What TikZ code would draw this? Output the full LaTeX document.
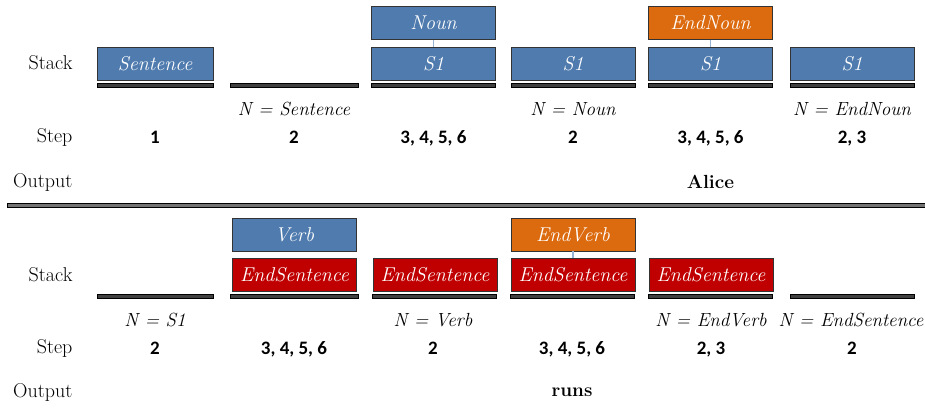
\documentclass[tikz,border=0pt]{standalone}
\usepackage{fontspec}
\newfontfamily\stepfont{Carlito}
\usepackage{tikz}
\usetikzlibrary{positioning}

\definecolor{boxblue}{HTML}{4F7BAE}
\definecolor{boxorange}{HTML}{DC6A0F}
\definecolor{boxred}{HTML}{C00000}
\definecolor{barGray}{HTML}{404040}
\definecolor{linkblue}{HTML}{95B3D7}

\tikzset{
  frame/.style={draw=black!80, line width=0.8pt, minimum height=33pt, inner sep=0pt,
    text=white, font=\fontsize{20}{22}\selectfont\itshape},
  nt/.style={frame, fill=boxblue, minimum width=124pt},
  endnt/.style={frame, fill=boxorange, minimum width=124pt},
  endsent/.style={frame, fill=boxred, minimum width=124pt},
  base/.style={draw=black, fill=barGray, line width=0.6pt, minimum height=4pt, inner sep=0pt, minimum width=124pt},
  rowlabel/.style={anchor=east, font=\fontsize{20}{22}\selectfont},
  nlabel/.style={anchor=base, inner sep=0pt, font=\fontsize{19}{22}\selectfont\itshape},
  stepno/.style={anchor=base, inner sep=0pt, font=\fontsize{19}{22}\selectfont\stepfont\bfseries},
  outword/.style={font=\fontsize{19}{22}\selectfont\bfseries},
  link/.style={draw=linkblue, line width=1.2pt}
}

\begin{document}
\begin{tikzpicture}[x=1pt, y=-1pt]
\useasboundingbox (0,0) rectangle (925,407);

% upper half
\begin{scope}
  \node [rowlabel] (stackA) at (76,63) {Stack};
  \node [rowlabel] (stepA) at (76,137) {Step};
  \node [rowlabel] (outA) at (76,182) {Output};

  \node [nt, minimum width=116pt] (a1) at (155,63.5) {Sentence};
  \node [base, minimum width=116pt] (ba1) at (155,85) {};
  \node [stepno] (sa1) at (155,143.5) {1};

  \node [base, minimum width=128pt] (ba2) at (294,85) {};
  \node [nlabel] (na2) at (294,115) {N = Sentence};
  \node [stepno] (sa2) at (294,143.5) {2};

  \node [nt] (a3) at (433.5,63.5) {S1};
  \node [nt] (a3top) at (433.5,23) {Noun};
  \draw [link] (a3top.south) -- (a3.north);
  \node [base] (ba3) at (433.5,85) {};
  \node [stepno] (sa3) at (433.5,143.5) {3, 4, 5, 6};

  \node [nt] (a4) at (573,63.5) {S1};
  \node [base] (ba4) at (573,85) {};
  \node [nlabel] (na4) at (573,115) {N = Noun};
  \node [stepno] (sa4) at (573,143.5) {2};

  \node [nt] (a5) at (710.5,63.5) {S1};
  \node [endnt] (a5top) at (710.5,23) {EndNoun};
  \draw [link] (a5top.south) -- (a5.north);
  \node [base] (ba5) at (710.5,85) {};
  \node [stepno] (sa5) at (710.5,143.5) {3, 4, 5, 6};
  \node [outword] (oa5) at (710.5,182) {Alice};

  \node [nt] (a6) at (852,63.5) {S1};
  \node [base] (ba6) at (852,85) {};
  \node [nlabel] (na6) at (852,115) {N = EndNoun};
  \node [stepno] (sa6) at (852,143.5) {2, 3};
\end{scope}

% separator
\draw [black, fill=black!55, line width=0.8pt] (7,203.5) rectangle (926,207);

% lower half
\begin{scope}
  \node [rowlabel] (stackB) at (76,275) {Stack};
  \node [rowlabel] (stepB) at (76,348) {Step};
  \node [rowlabel] (outB) at (76,392) {Output};

  \node [base, minimum width=116pt] (bb1) at (155,296) {};
  \node [nlabel] (nb1) at (155,326) {N = S1};
  \node [stepno] (sb1) at (155,354.5) {2};

  \node [endsent] (b2) at (294.5,275) {EndSentence};
  \node [nt] (b2top) at (294.5,234.5) {Verb};
  \node [base, minimum width=128pt] (bb2) at (294,296) {};
  \node [stepno] (sb2) at (294,354.5) {3, 4, 5, 6};

  \node [endsent] (b3) at (435,275) {EndSentence};
  \node [base] (bb3) at (434,296) {};
  \node [nlabel] (nb3) at (433,326) {N = Verb};
  \node [stepno] (sb3) at (433,354.5) {2};

  \node [endsent] (b4) at (573,275) {EndSentence};
  \node [endnt] (b4top) at (573,234.5) {EndVerb};
  \draw [link] (b4top.south) -- (b4.north);
  \node [base] (bb4) at (572.5,296) {};
  \node [stepno] (sb4) at (572,354.5) {3, 4, 5, 6};
  \node [outword] (ob4) at (572,392) {runs};

  \node [endsent] (b5) at (711,275) {EndSentence};
  \node [base] (bb5) at (710.5,296) {};
  \node [nlabel] (nb5) at (711,326) {N = EndVerb};
  \node [stepno] (sb5) at (711,354.5) {2, 3};

  \node [base] (bb6) at (852,296) {};
  \node [nlabel] (nb6) at (851,326) {N = EndSentence};
  \node [stepno] (sb6) at (852,354.5) {2};
\end{scope}
\end{tikzpicture}
\end{document}
